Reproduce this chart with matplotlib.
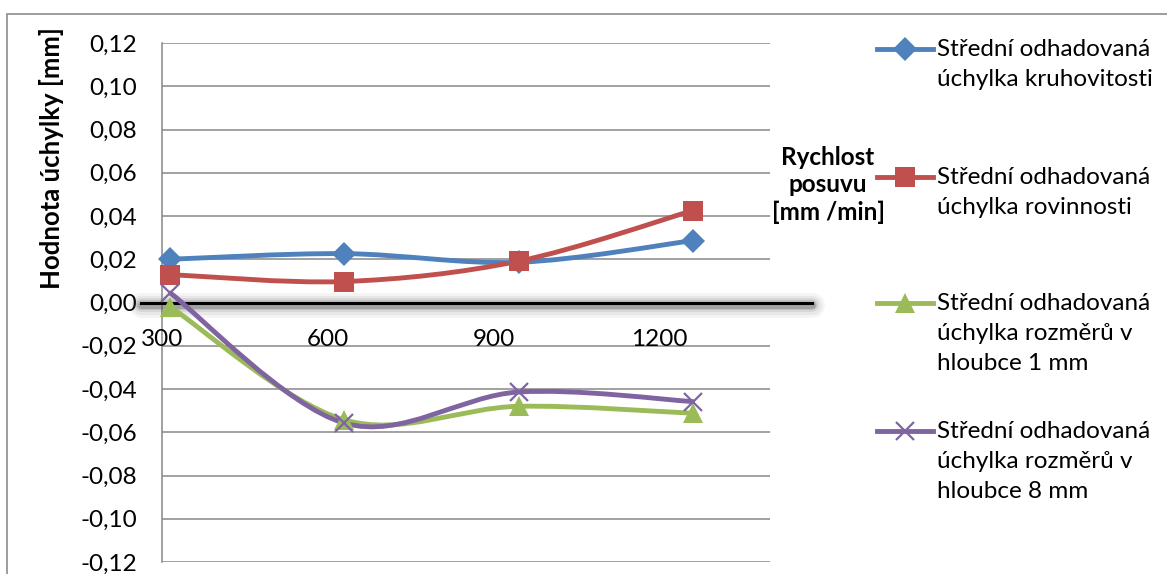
import matplotlib
matplotlib.use("Agg")
import matplotlib.pyplot as plt
import matplotlib.transforms as mtransforms
import numpy as np
from matplotlib.path import Path
from matplotlib.patches import PathPatch, Rectangle
from matplotlib.lines import Line2D

# feed rate [mm/min]
feed = [315, 630, 945, 1260]

# mean estimated deviations [mm]
kruhovitost = [0.020, 0.0226, 0.0186, 0.0286]
rovinnost = [0.0129, 0.0097, 0.0191, 0.0425]
rozmer_1mm = [-0.002, -0.0543, -0.048, -0.0512]
rozmer_8mm = [0.0044, -0.0558, -0.0414, -0.0458]

series_labels = [
    "Střední odhadovaná\núchylka kruhovitosti",
    "Střední odhadovaná\núchylka rovinnosti",
    "Střední odhadovaná\núchylka rozměrů v\nhloubce 1 mm",
    "Střední odhadovaná\núchylka rozměrů v\nhloubce 8 mm",
]
xticks = [300, 600, 900, 1200]
yticks = [-0.12, -0.10, -0.08, -0.06, -0.04, -0.02, 0.0, 0.02, 0.04, 0.06, 0.08, 0.10, 0.12]

plt.rcParams['font.family'] = ['Lato', 'DejaVu Sans']
FS = 17.5

W, H = 1167, 574
fig = plt.figure(figsize=(W / 100, H / 100), dpi=100)

# outer chart frame
fig.patches.append(Rectangle((7 / W, -0.1), 1.2, 1.1 - 14 / H, transform=fig.transFigure,
                             fill=False, edgecolor='#8c8c8c', linewidth=1.2))

ax = fig.add_axes([162 / W, 12 / H, 608 / W, 519 / H])
ax.set_xlim(300, 1400)
ax.set_ylim(-0.12, 0.12)
ax.set_yticks(yticks)
ax.set_yticklabels([f"{v:.2f}".replace('.', ',').replace('-0,00', '0,00') for v in yticks],
                   fontsize=FS)
ax.tick_params(axis='y', length=0, pad=18)
ax.yaxis.grid(True, color='#888888', linewidth=1.1)
ax.set_axisbelow(True)
for s in ['top', 'right', 'bottom']:
    ax.spines[s].set_visible(False)
ax.spines['left'].set_color('#888888')
ax.spines['left'].set_linewidth(1.1)

# x tick labels placed under the zero line
ax.set_xticks([])
for xv in xticks:
    ax.annotate(str(xv), xy=(xv, 0), xytext=(0, -27), textcoords='offset points',
                ha='center', va='center', fontsize=FS)

# zero axis with a soft shadow
xs = [262, 1476]
shadow = ax.transData + mtransforms.ScaledTranslation(0, -2 / 100, fig.dpi_scale_trans)
for lw, a in [(18, 0.06), (14, 0.08), (10, 0.12), (7, 0.18), (5, 0.25)]:
    ax.plot(xs, [0, 0], color='#555555', linewidth=lw, alpha=a, clip_on=False,
            solid_capstyle='round', zorder=3, transform=shadow)
ax.plot(xs, [0, 0], color='black', linewidth=2.2, clip_on=False, zorder=4)


def smooth_path(x, y):
    pts = np.column_stack([x, y]).astype(float)
    n = len(pts)
    verts = [pts[0]]
    codes = [Path.MOVETO]
    for i in range(n - 1):
        p0 = pts[i - 1] if i > 0 else pts[i]
        p1 = pts[i]
        p2 = pts[i + 1]
        p3 = pts[i + 2] if i + 2 < n else pts[i + 1]
        c1 = p1 + (p2 - p0) / 6.0
        c2 = p2 - (p3 - p1) / 6.0
        verts += [c1, c2, p2]
        codes += [Path.CURVE4] * 3
    return Path(verts, codes)


styles = [
    dict(color='#4F81BD', marker='D', ms=12, mew=0),
    dict(color='#C0504D', marker='s', ms=14, mew=0),
    dict(color='#9BBB59', marker='^', ms=15, mew=0),
    dict(color='#8064A2', marker='x', ms=13, mew=1.6),
]
LW = 3.5
data = [kruhovitost, rovinnost, rozmer_1mm, rozmer_8mm]
for vals, st in zip(data, styles):
    ax.add_patch(PathPatch(smooth_path(feed, vals), facecolor='none', edgecolor=st['color'],
                           linewidth=LW, zorder=5, clip_on=False, capstyle='round'))
    ax.plot(feed, vals, linestyle='none', marker=st['marker'], markersize=st['ms'],
            color=st['color'], markeredgewidth=st['mew'], zorder=6, clip_on=False)

# axis titles
fig.text(52 / W, 1 - 158 / H, "Hodnota úchylky [mm]", rotation=90, ha='center', va='center',
         fontsize=18.5, fontweight='bold')
fig.text(828 / W, 1 - 185 / H, "Rychlost\nposuvu\n[mm /min]", ha='center', va='center',
         fontsize=FS, fontweight='bold', linespacing=1.2)

# legend
legend_y = [49, 177, 303, 431]
for lab, st, yy in zip(series_labels, styles, legend_y):
    yf = 1 - yy / H
    fig.lines.append(Line2D([877 / W, 933 / W], [yf, yf], transform=fig.transFigure,
                            color=st['color'], linewidth=LW))
    fig.lines.append(Line2D([905 / W], [yf], transform=fig.transFigure, linestyle='none',
                            marker=st['marker'], markersize=st['ms'], color=st['color'],
                            markeredgewidth=st['mew']))
    for k, part in enumerate(lab.split('\n')):
        fig.text(937 / W, 1 - (yy + 30 * k) / H, part, ha='left', va='center', fontsize=FS)

fig.savefig("out.png", dpi=100)
